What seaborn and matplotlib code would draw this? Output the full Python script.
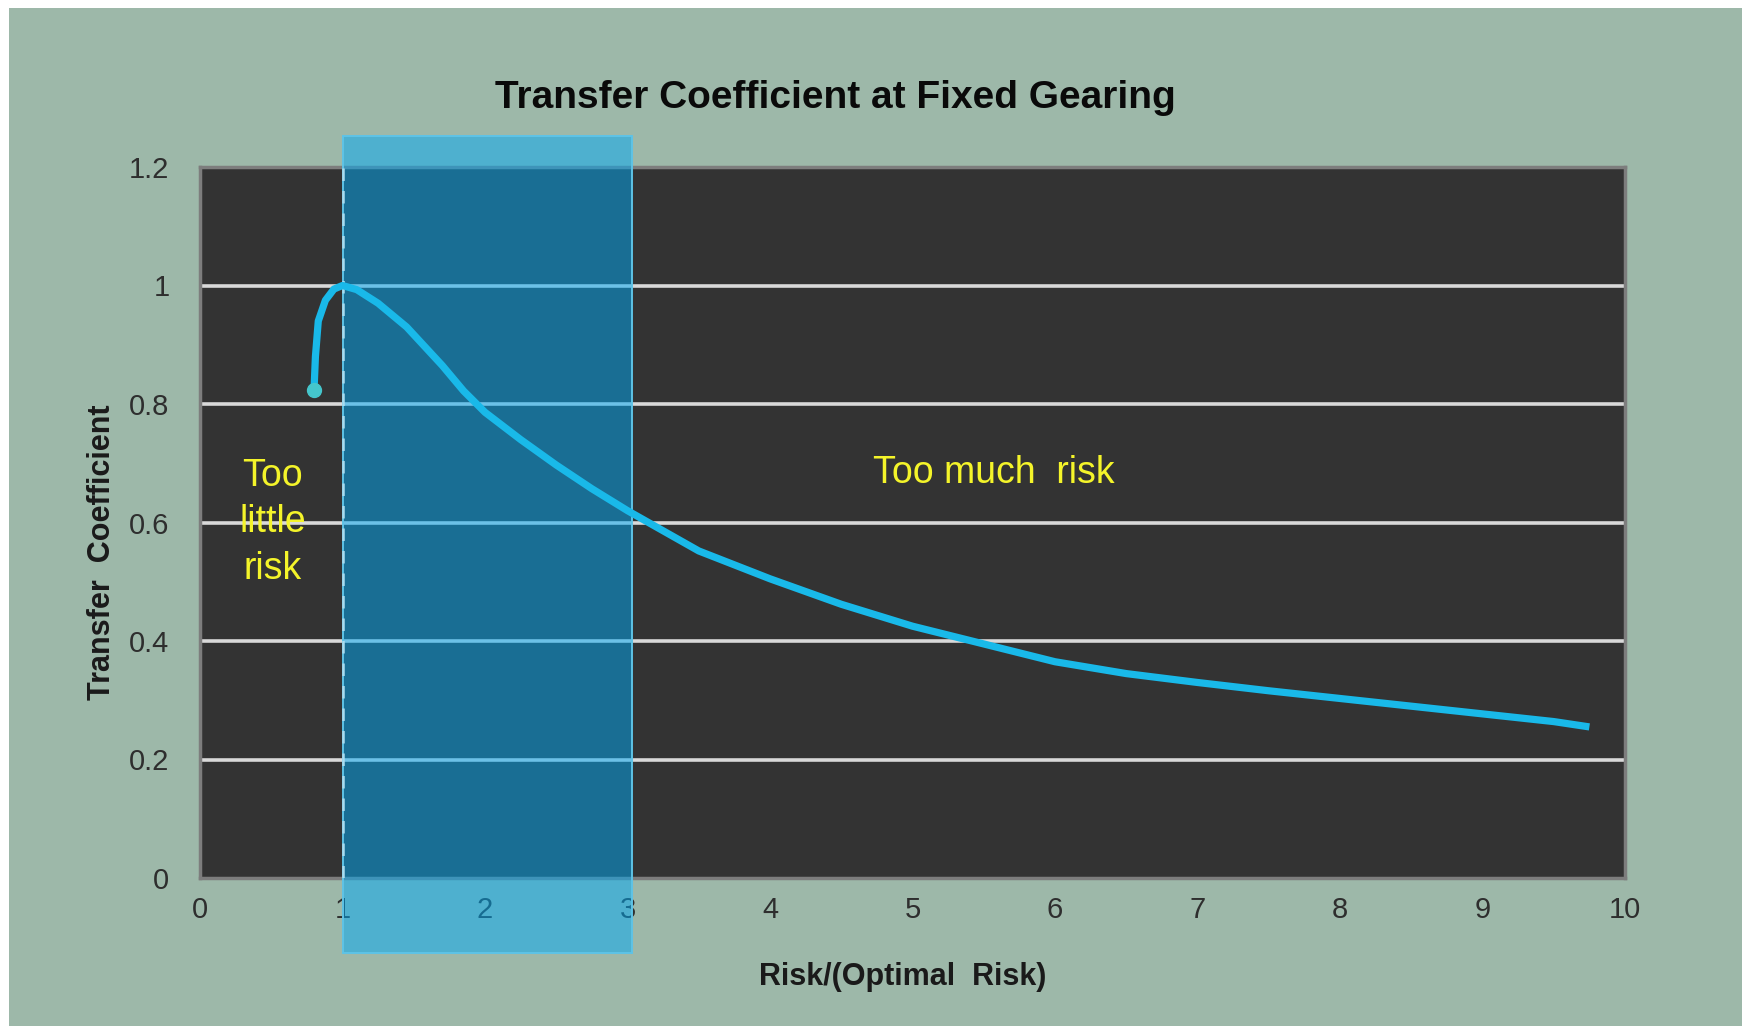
import matplotlib
matplotlib.use("Agg")
import matplotlib.pyplot as plt
from matplotlib.patches import Rectangle
import seaborn as sns
import pandas as pd

# Transfer coefficient vs. risk relative to optimal risk
risk_ratio = [0.80, 0.81, 0.83, 0.88, 0.94, 1.00, 1.10, 1.25, 1.45, 1.70,
              1.85, 2.00, 2.25, 2.50, 2.75, 3.00, 3.50, 4.00, 4.50, 5.00,
              5.50, 6.00, 6.50, 7.00, 7.50, 8.00, 8.50, 9.00, 9.50, 9.75]
transfer_coef = [0.823, 0.88, 0.94, 0.975, 0.994, 1.00, 0.993, 0.97, 0.93, 0.865,
                 0.822, 0.786, 0.74, 0.697, 0.657, 0.62, 0.552, 0.505, 0.462, 0.425,
                 0.395, 0.365, 0.345, 0.33, 0.316, 0.303, 0.29, 0.277, 0.264, 0.255]

x_ticks = [0, 1, 2, 3, 4, 5, 6, 7, 8, 9, 10]
y_ticks = [0, 0.2, 0.4, 0.6, 0.8, 1.0, 1.2]
y_tick_labels = ["0", "0.2", "0.4", "0.6", "0.8", "1", "1.2"]

optimal_band = (1.0, 3.03)

df = pd.DataFrame({"risk": risk_ratio, "tc": transfer_coef})

sns.set_theme(style="white")
plt.rcParams["font.family"] = ["Liberation Sans", "DejaVu Sans"]

SAGE = "#9db8a9"
DARK = "#333333"
CYAN = "#19b9e9"

fig = plt.figure(figsize=(17.42, 10.26), dpi=100, facecolor="white")
fig.add_artist(Rectangle((9 / 1742, 0), 1, 1018 / 1026, transform=fig.transFigure,
                         facecolor=SAGE, edgecolor="none", zorder=-10))

ax = fig.add_axes([200 / 1742, 1 - 878 / 1026, 1425 / 1742, 711 / 1026])
ax.set_zorder(1)
ax.set_facecolor(DARK)

# curve
sns.lineplot(data=df, x="risk", y="tc", sort=False, estimator=None, ax=ax,
             color=CYAN, linewidth=5.2, zorder=5, solid_joinstyle="round",
             solid_capstyle="butt")
ax.plot(risk_ratio[0], transfer_coef[0], marker="o", markersize=10,
        color="#45c6cc", zorder=6, linestyle="none")

ax.set_xlim(0, 10)
ax.set_ylim(0, 1.2)
ax.set_xticks(x_ticks)
ax.set_xticklabels([str(t) for t in x_ticks])
ax.set_yticks(y_ticks)
ax.set_yticklabels(y_tick_labels)
ax.tick_params(axis="both", length=0, labelsize=21, labelcolor="#2e2e2e")
ax.tick_params(axis="x", pad=13)
ax.tick_params(axis="y", pad=22)

# horizontal gridlines (inner values only)
ax.grid(False)
for yv in y_ticks[1:-1]:
    ax.axhline(yv, color="#d9d9d9", linewidth=2.6, zorder=1)

for side in ["top", "bottom", "left", "right"]:
    ax.spines[side].set_visible(True)
    ax.spines[side].set_color("#7d7d7d")
    ax.spines[side].set_linewidth(2.5)

# shaded band of reasonable risk, extending past the plot area
band = Rectangle((optimal_band[0], -0.126), optimal_band[1] - optimal_band[0], 1.379,
                 facecolor="#00aaf5", alpha=0.5, edgecolor="none",
                 clip_on=False, zorder=3)
ax.add_patch(band)
band_edge = Rectangle((optimal_band[0], -0.126), optimal_band[1] - optimal_band[0], 1.379,
                      facecolor="none", edgecolor="#5ec3e6", linewidth=1.4,
                      clip_on=False, zorder=3.1)
ax.add_patch(band_edge)
ax.plot([1, 1], [0, 1.2], color="#a9dcef", linewidth=1.8, linestyle=(0, (5, 4)),
        zorder=3.2)

# region annotations
ax.text(0.51, 0.6, "Too\nlittle\nrisk", color="#f4f42a", fontsize=27,
        ha="center", va="center", zorder=7, linespacing=1.38)
ax.text(5.57, 0.683, "Too much  risk", color="#f4f42a", fontsize=27,
        ha="center", va="center", zorder=7)

ax.set_xlabel("")
ax.set_ylabel("")
fig.text(835 / 1742, 1 - 98 / 1026, "Transfer Coefficient at Fixed Gearing",
         fontsize=28, fontweight="bold", color="#0a0a0a", ha="center", va="center")
fig.text(903 / 1742, 1 - 977 / 1026, "Risk/(Optimal  Risk)", fontsize=22,
         fontweight="bold", color="#1a1a1a", ha="center", va="center")
fig.text(102 / 1742, 1 - 552 / 1026, "Transfer  Coefficient", fontsize=22,
         fontweight="bold", color="#1a1a1a", ha="center", va="center", rotation=90)

fig.savefig("out.png", dpi=100, facecolor=fig.get_facecolor())
